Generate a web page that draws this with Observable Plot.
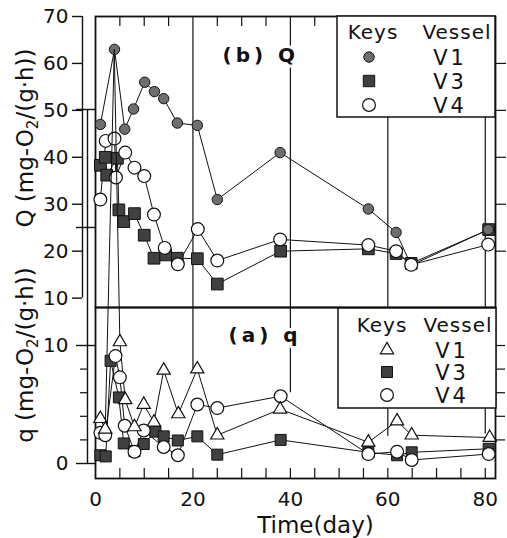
<!DOCTYPE html>
<html><head><meta charset="utf-8">
<script src="https://cdn.jsdelivr.net/npm/d3@7"></script>
<script src="https://cdn.jsdelivr.net/npm/@observablehq/plot@0.6"></script>
<style>
html,body{margin:0;padding:0;background:#fff;}
#chart{position:relative;width:507px;height:538px;overflow:hidden;background:#fff;font-family:"DejaVu Sans",sans-serif;}
#chart > svg{position:absolute;left:0;}
</style></head><body><div id="chart"></div>
<script>
// ---------- data ----------
// (b) Q, mg-O2/(g·h)
const dayV1Q = [1, 3.9, 6, 7.8, 10.1, 12.1, 14, 16.8, 20.9, 25, 37.9, 56, 61.7, 64.8, 80.6];
const Q_V1   = [47, 63, 46, 50.3, 56, 54, 52.5, 47.3, 46.8, 31, 41, 29, 24, 17, 24.6];
const dayV3Q = [1, 2, 2.3, 4.5, 4.8, 5.8, 8, 10, 12, 14.4, 16.8, 20.9, 25, 38, 56, 61.7, 64.8, 80.7];
const Q_V3   = [38.3, 40, 36.2, 39.8, 28.8, 26.3, 28, 23.4, 18.5, 19.2, 18.5, 18.4, 13, 20, 20.5, 19.5, 17.4, 24.6];
const dayV4Q = [1, 2.1, 3.9, 4.2, 6.1, 8, 10, 12, 14.2, 16.9, 21, 25, 37.9, 56, 61.7, 64.8, 80.6];
const Q_V4   = [31, 43.5, 44, 35.7, 41, 37.8, 36, 27.8, 20.7, 17.2, 24.7, 18, 22.5, 21.3, 20, 17.1, 21.4];
// (a) q, mg-O2/(g·h)  (V1 day 3.85 is off scale, drawn unclipped as in the original)
const dayV1q = [1, 2, 3.85, 5, 6.1, 8, 9.9, 12, 14, 17, 20.9, 25, 37.9, 56, 61.9, 64.9, 80.9];
const q_V1   = [3.8, 2.9, 35.1, 10.3, 5.4, 3.1, 5.0, 3.5, 7.9, 4.2, 8.0, 2.4, 4.6, 1.8, 3.6, 2.4, 2.2];
const dayV3q = [1, 2.1, 3.1, 4.8, 5.8, 8, 9.9, 12.3, 14, 16.9, 20.9, 25, 38, 56, 61.9, 64.9, 80.7];
const q_V3   = [0.7, 0.6, 8.7, 5.6, 1.7, 1.05, 1.65, 2.7, 2.3, 1.95, 2.3, 0.75, 2.0, 0.95, 0.7, 0.95, 1.25];
const dayV4q = [1, 2, 4.1, 5, 6, 8, 9.9, 14, 16.9, 20.9, 25, 38, 56, 61.9, 64.9, 80.7];
const q_V4   = [2.6, 2.4, 9.1, 7.3, 3.2, 1.0, 2.8, 1.4, 0.7, 5.0, 4.7, 5.7, 0.8, 1.0, 0.3, 0.8];
// ticks
const xLabelTicks = [0, 20, 40, 60, 80];
const gridDays = [20, 40, 60, 80];
const gridEndQ = [8, 6, 2.3, 2.5];           // lower end of grid lines in (a)
const minorTop = [5, 10, 15, 25, 30, 35, 45, 50, 55, 65, 70, 75];
const minorBottom = [5, 10, 15, 20, 25, 30, 35, 40, 45, 50, 55, 60, 65, 70, 75, 80];
const QTicks = [10, 20, 30, 40, 50, 60, 70];
const QRightTicks = [20, 30, 40, 50, 60];
const qMajor = [0, 10, 20, 30];
const qMinor = [2, 4, 6, 8];
const qRightTicks = [2, 4, 6, 8, 10];
const vessels = ["V1", "V3", "V4"];

const rows = (days, vals) => days.map((d, i) => ({day: d, v: vals[i]}));
const ink = "#111";
const font = "DejaVu Sans, sans-serif";
const chart = document.getElementById("chart");

// ---------- top panel (b) Q ----------
const rV1Q = rows(dayV1Q, Q_V1), rV3Q = rows(dayV3Q, Q_V3), rV4Q = rows(dayV4Q, Q_V4);
const topPlot = Plot.plot({
  width: 507, height: 307, marginTop: 16, marginRight: 12, marginBottom: 0, marginLeft: 95,
  x: {domain: [0, 82.1], axis: null},
  y: {domain: [8, 70], axis: null},
  style: {background: "transparent", overflow: "visible", fontFamily: font, color: ink},
  marks: [
    Plot.ruleX(gridDays, {stroke: ink, strokeWidth: 1.2}),
    Plot.tickX(minorTop, {stroke: ink, strokeWidth: 1.2, insetBottom: 281}),
    Plot.axisY({anchor: "right", ticks: QRightTicks, tickSize: 10, tickFormat: () => "", label: null, strokeWidth: 1.2}),
    Plot.ruleX([0], {y1: 10, y2: 70, dx: -13, stroke: ink, strokeWidth: 1.4}),
    Plot.axisY({anchor: "left", ticks: QTicks, tickSize: 10, tickPadding: 4, dx: -13, fontSize: 20, label: null, strokeWidth: 1.4}),
    Plot.frame({stroke: ink, strokeWidth: 1.8}),
    Plot.text(["(b) Q"], {frameAnchor: "top-left", dx: 127, dy: 45, textAnchor: "start", lineAnchor: "bottom",
      fontSize: 20, fontWeight: "bold", fill: ink, stroke: "white", strokeWidth: 6}),
    Plot.line(rV1Q, {x: "day", y: "v", stroke: ink, strokeWidth: 1}),
    Plot.line(rV3Q, {x: "day", y: "v", stroke: ink, strokeWidth: 1}),
    Plot.line(rV4Q, {x: "day", y: "v", stroke: ink, strokeWidth: 1}),
    Plot.dot(rV3Q, {x: "day", y: "v", symbol: "square", r: 6.6, fill: "#404040", stroke: ink, strokeWidth: 1}),
    Plot.dot(rV1Q, {x: "day", y: "v", r: 5.2, fill: "#6e6e6e", stroke: ink, strokeWidth: 1}),
    Plot.dot(rV4Q, {x: "day", y: "v", r: 6.4, fill: "white", stroke: ink, strokeWidth: 1.2})
  ]
});
topPlot.style.top = "0px";
chart.appendChild(topPlot);

// ---------- bottom panel (a) q ----------
const rV1q = rows(dayV1q, q_V1), rV3q = rows(dayV3q, q_V3), rV4q = rows(dayV4q, q_V4);
const onScale = r => r.v < 13;
const gridRows = gridDays.map((d, i) => ({day: d, lo: gridEndQ[i]}));
const botPlot = Plot.plot({
  width: 507, height: 231, marginTop: 0, marginRight: 12, marginBottom: 60, marginLeft: 95,
  x: {domain: [0, 82.1], axis: null},
  y: {domain: [-1.27, 13.22], axis: null},
  style: {background: "transparent", overflow: "visible", fontFamily: font, color: ink},
  marks: [
    Plot.ruleX(gridRows, {x: "day", y1: "lo", y2: 13.22, stroke: ink, strokeWidth: 1.2}),
    Plot.tickX(minorBottom, {stroke: ink, strokeWidth: 1.2, insetTop: 161}),
    Plot.axisY({anchor: "right", ticks: qRightTicks, tickSize: 9, tickFormat: () => "", label: null, strokeWidth: 1.2}),
    Plot.ruleX([0], {y1: 0, y2: 30, dx: -8, stroke: ink, strokeWidth: 1.4}),
    Plot.axisY({anchor: "left", ticks: qMajor, tickSize: 11, tickPadding: 8, dx: -8, fontSize: 20, label: null,
      strokeWidth: 1.4, tickFormat: d => (d <= 10 ? String(d) : "")}),
    Plot.axisY({anchor: "left", ticks: qMajor, tickSize: 9, dx: 1, tickFormat: () => "", label: null, strokeWidth: 1.4}),
    Plot.axisY({anchor: "left", ticks: qMinor, tickSize: 7, dx: -8, tickFormat: () => "", label: null, strokeWidth: 1.2}),
    Plot.axisX({anchor: "bottom", ticks: xLabelTicks, tickSize: 0, tickPadding: 13, fontSize: 20, label: null}),
    Plot.text(["Time(day)"], {frameAnchor: "bottom", dx: 20, dy: 54, lineAnchor: "bottom", fontSize: 23, fill: ink}),
    Plot.frame({stroke: ink, strokeWidth: 1.8}),
    Plot.text(["(a) q"], {frameAnchor: "top-left", dx: 133, dy: 34, textAnchor: "start", lineAnchor: "bottom",
      fontSize: 20, fontWeight: "bold", fill: ink, stroke: "white", strokeWidth: 6}),
    Plot.line(rV3q, {x: "day", y: "v", stroke: ink, strokeWidth: 1}),
    Plot.line(rV4q, {x: "day", y: "v", stroke: ink, strokeWidth: 1}),
    Plot.line(rV1q, {x: "day", y: "v", stroke: ink, strokeWidth: 1}),
    Plot.dot(rV3q, {x: "day", y: "v", symbol: "square", r: 6.2, fill: "#404040", stroke: ink, strokeWidth: 1}),
    Plot.dot(rV4q, {x: "day", y: "v", r: 6.4, fill: "white", stroke: ink, strokeWidth: 1.2}),
    Plot.dot(rV1q.filter(onScale), {x: "day", y: "v", symbol: "triangle", r: 4.9, fill: "white", stroke: ink, strokeWidth: 1.2})
  ]
});
botPlot.style.top = "307px";
chart.appendChild(botPlot);

// letter spacing on panel labels
[topPlot, botPlot].forEach(svg => {
  d3.select(svg).selectAll("text").filter(function() {
    return this.textContent === "(b) Q" || this.textContent === "(a) q";
  }).attr("letter-spacing", 4);
});

// ---------- overlay: axis titles and key boxes ----------
const ov = d3.select(chart).append("svg")
  .attr("width", 507).attr("height", 538)
  .style("position", "absolute").style("top", "0px").style("left", "0px")
  .attr("font-family", font).attr("fill", ink);

function yTitle(cx, cy, lead) {
  const t = ov.append("text").attr("transform", `translate(${cx},${cy}) rotate(-90)`)
    .attr("text-anchor", "middle").attr("font-size", 23).attr("dy", "0.35em");
  t.append("tspan").text(lead + " (mg-O");
  t.append("tspan").attr("font-size", 15).attr("dy", 5).text("2");
  t.append("tspan").attr("dy", -5).text("/(g\u00b7h))");
}
yTitle(25, 138, "Q");
yTitle(25, 355, "q");

function keyBox(x, y, w, h, keysX, vesX, headBase, rowsY, symX, labX, syms) {
  ov.append("rect").attr("x", x).attr("y", y).attr("width", w).attr("height", h)
    .attr("fill", "white").attr("stroke", ink).attr("stroke-width", 1.5);
  ov.append("text").attr("x", keysX).attr("y", headBase).attr("text-anchor", "middle")
    .attr("font-size", 20).attr("letter-spacing", 1).text("Keys");
  ov.append("text").attr("x", vesX).attr("y", headBase).attr("text-anchor", "middle")
    .attr("font-size", 20).attr("letter-spacing", 1).text("Vessel");
  vessels.forEach((v, i) => {
    const s = syms[i];
    ov.append("path").attr("transform", `translate(${symX},${rowsY[i]})`)
      .attr("d", d3.symbol(s.type, Math.PI * s.r * s.r)())
      .attr("fill", s.fill).attr("stroke", ink).attr("stroke-width", s.sw);
    ov.append("text").attr("x", labX).attr("y", rowsY[i] + 7.5).attr("text-anchor", "middle")
      .attr("font-size", 21).attr("letter-spacing", 3).text(v);
  });
}
keyBox(337, 16, 158, 101, 373, 457, 39, [57, 81, 105], 369, 450, [
  {type: d3.symbolCircle, r: 5.2, fill: "#6e6e6e", sw: 1},
  {type: d3.symbolSquare, r: 6.4, fill: "#404040", sw: 1},
  {type: d3.symbolCircle, r: 6.4, fill: "white", sw: 1.2}
]);
keyBox(338, 308, 158, 100, 382, 458, 332, [350, 372, 395], 387, 452, [
  {type: d3.symbolTriangle, r: 4.9, fill: "white", sw: 1.2},
  {type: d3.symbolSquare, r: 6.2, fill: "#404040", sw: 1},
  {type: d3.symbolCircle, r: 6.4, fill: "white", sw: 1.2}
]);
</script>
</body></html>
